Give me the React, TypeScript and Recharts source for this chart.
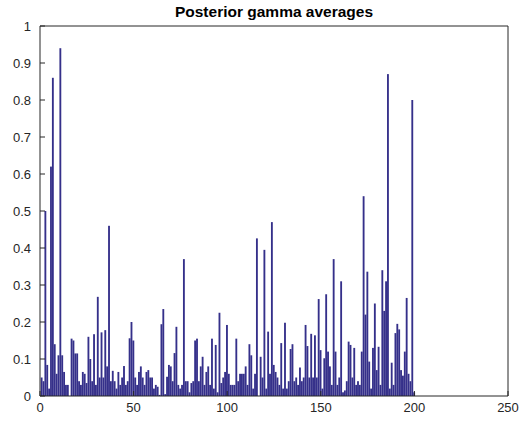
import { Bar, ComposedChart, Line, XAxis, YAxis } from "recharts";

// bar positions 1..200 and their posterior gamma averages
const barIndex = Array.from({ length: 200 }, (_, i) => i + 1);
const gammaAvg = [
  0.05, 0.04, 0.5, 0.084, 0.02, 0.62, 0.86, 0.14, 0.06, 0.11,
  0.94, 0.11, 0.065, 0.03, 0.03, 0.0, 0.155, 0.15, 0.115, 0.115,
  0.04, 0.03, 0.065, 0.06, 0.035, 0.16, 0.1, 0.04, 0.167, 0.03,
  0.268, 0.05, 0.172, 0.05, 0.178, 0.08, 0.46, 0.04, 0.068, 0.04,
  0.02, 0.065, 0.03, 0.05, 0.081, 0.03, 0.04, 0.156, 0.2, 0.15,
  0.05, 0.03, 0.065, 0.08, 0.05, 0.03, 0.065, 0.07, 0.05, 0.05,
  0.02, 0.03, 0.025, 0.003, 0.194, 0.235, 0.005, 0.052, 0.084, 0.08,
  0.04, 0.116, 0.187, 0.03, 0.02, 0.03, 0.37, 0.04, 0.04, 0.01,
  0.035, 0.04, 0.15, 0.155, 0.04, 0.08, 0.106, 0.03, 0.065, 0.08,
  0.03, 0.155, 0.02, 0.138, 0.01, 0.225, 0.035, 0.05, 0.065, 0.192,
  0.06, 0.03, 0.03, 0.03, 0.155, 0.04, 0.06, 0.06, 0.06, 0.08,
  0.03, 0.14, 0.11, 0.02, 0.06, 0.426, 0.0, 0.106, 0.05, 0.395,
  0.02, 0.174, 0.06, 0.47, 0.084, 0.065, 0.05, 0.03, 0.143, 0.02,
  0.198, 0.02, 0.04, 0.127, 0.14, 0.04, 0.05, 0.03, 0.077, 0.04,
  0.05, 0.192, 0.135, 0.05, 0.168, 0.05, 0.164, 0.05, 0.262, 0.124,
  0.02, 0.102, 0.275, 0.12, 0.08, 0.03, 0.37, 0.12, 0.03, 0.05,
  0.31, 0.01, 0.015, 0.04, 0.147, 0.138, 0.05, 0.13, 0.03, 0.04,
  0.03, 0.12, 0.54, 0.22, 0.336, 0.093, 0.02, 0.13, 0.25, 0.07,
  0.133, 0.03, 0.34, 0.23, 0.31, 0.87, 0.02, 0.09, 0.03, 0.17,
  0.195, 0.18, 0.07, 0.055, 0.12, 0.265, 0.06, 0.04, 0.8, 0.01,
];
const xTicks = [0, 50, 100, 150, 200, 250];
const yTicks = [0, 0.1, 0.2, 0.3, 0.4, 0.5, 0.6, 0.7, 0.8, 0.9, 1];

const rows = barIndex.map((k, i) => ({ k, g: gammaAvg[i] }));

const axisColor = "#262626";
const barColor = "#35308a";
const font = "'Liberation Sans', Arial, sans-serif";
const tickStyle = { fill: axisColor, fontSize: 13, fontFamily: font };

// recharts squeezes bars on a numeric axis; redraw each one around its own centre, MATLAB-width
const WideBar = (p: any) => {
  const w = 1.85;
  const cx = p.x + p.width / 2;
  return <rect x={cx - w / 2} y={p.y} width={w} height={Math.max(p.height, 0)} fill={barColor} stroke="none" />;
};

export default function App() {
  return (
    <div style={{ position: "absolute", left: 0, top: 0, width: 521, height: 423, background: "#fff" }}>
      <ComposedChart
        width={521}
        height={423}
        data={rows}
        margin={{ top: 25, right: 12, left: 8, bottom: 0 }}
      >
        <XAxis
          dataKey="k"
          type="number"
          domain={[0, 250]}
          ticks={xTicks}
          allowDataOverflow
          height={27}
          tickSize={-5}
          tickMargin={12}
          stroke={axisColor}
          tick={tickStyle}
        />
        <XAxis
          xAxisId="top"
          dataKey="k"
          orientation="top"
          type="number"
          domain={[0, 250]}
          ticks={xTicks}
          allowDataOverflow
          height={1}
          tickSize={-5}
          tick={false}
          stroke={axisColor}
        />
        <YAxis
          type="number"
          domain={[0, 1]}
          ticks={yTicks}
          width={32}
          tickSize={-5}
          tickMargin={14}
          stroke={axisColor}
          tick={tickStyle}
          tickFormatter={(v: number) => String(+v.toFixed(1))}
        />
        <YAxis
          yAxisId="right"
          orientation="right"
          type="number"
          domain={[0, 1]}
          ticks={yTicks}
          width={1}
          tickSize={-5}
          tick={false}
          stroke={axisColor}
        />
        <Bar dataKey="g" fill={barColor} shape={WideBar} isAnimationActive={false} />
        {/* invisible series so the top/right box axes get drawn */}
        <Line
          xAxisId="top"
          yAxisId="right"
          dataKey="g"
          stroke="none"
          dot={false}
          activeDot={false}
          isAnimationActive={false}
        />
      </ComposedChart>
      <svg width={521} height={24} style={{ position: "absolute", left: 0, top: 0 }}>
        <text x={274} y={17} textAnchor="middle" fontFamily={font} fontWeight="bold" fontSize={15.5} fill="#000">
          Posterior gamma averages
        </text>
      </svg>
    </div>
  );
}
